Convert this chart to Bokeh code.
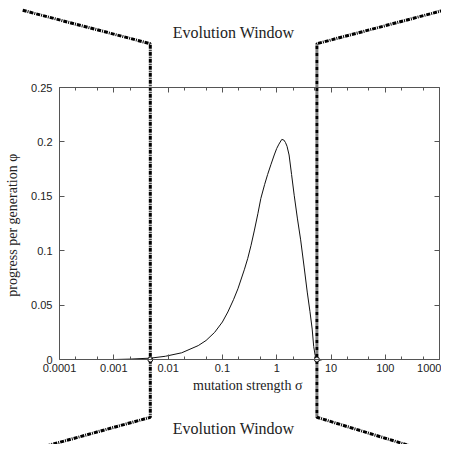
from bokeh.plotting import figure
from bokeh.models import FixedTicker, LogAxis, LinearAxis
from bokeh.core.properties import value
from bokeh.embed import file_html
from bokeh.resources import INLINE

# ---- data ----
sigma = [0.001, 0.002, 0.0048, 0.0089, 0.0178, 0.0359, 0.05, 0.072, 0.1, 0.126,
         0.16, 0.193, 0.255, 0.293, 0.337, 0.389, 0.45, 0.51, 0.6, 0.68, 0.78,
         0.9, 1.0, 1.1, 1.24, 1.35, 1.45, 1.55, 1.69, 1.88, 2.1, 2.4, 2.76,
         3.2, 3.65, 4.1, 4.5, 4.8, 5.1, 5.5, 6.0, 7.0]
phi = [0.0, 0.0004, 0.0013, 0.0030, 0.0062, 0.0128, 0.0175, 0.0250, 0.0345, 0.0437,
       0.055, 0.065, 0.083, 0.093, 0.105, 0.119, 0.134, 0.148, 0.161, 0.170, 0.179,
       0.188, 0.194, 0.198, 0.2023, 0.2018, 0.1995, 0.196, 0.188, 0.170, 0.151, 0.130, 0.110,
       0.085, 0.062, 0.044, 0.028, 0.012, 0.004, 0.0005, -0.0008, 0.0]

x_ticks = [1e-4, 1e-3, 1e-2, 1e-1, 1, 10, 100, 1000]
x_tick_labels = ["0.0001", "0.001", "0.01", "0.1", "1", "10", "100", "1000"]
x_minor = [m * t for t in x_ticks[:-1] for m in (2, 5)]
y_ticks = [0, 0.05, 0.1, 0.15, 0.2, 0.25]
y_tick_labels = ["0", "0.05", "0.1", "0.15", "0.2", "0.25"]
x_lo, x_hi = 1e-4, 1e3          # plotted axis extent
y_lo, y_hi = 0.0, 0.25

# whole-canvas view (room for the evolution-window decoration)
view_x = (10 ** -5.0866, 10 ** 3.0349)
view_y = (-0.0781, 0.3300)

# evolution window (sigma bounds) and decoration geometry in data units
window_lo, window_hi = 0.0047, 5.5
window_top, window_bottom = 0.2903, -0.0531
outer_left_top, outer_left_bottom = 2.1e-5, 1.2e-5
outer_right = 1190.0
outer_top, outer_bottom = 0.3210, -0.0888
window_label = "Evolution Window"
label_center = 0.161
label_ys = [0.3004, -0.0632]
cross_x = [window_lo, window_hi]
cross_y = [0.0, 0.0]

W, H = 441, 444
p = figure(width=W, height=H, x_axis_type="log", x_range=view_x, y_range=view_y,
           output_backend="svg", toolbar_location=None,
           min_border=0, x_axis_location=None, y_axis_location=None)
p.background_fill_color = "white"
p.border_fill_color = "white"
p.outline_line_color = None
p.grid.visible = False

xt = FixedTicker(ticks=x_ticks, minor_ticks=x_minor)
yt = FixedTicker(ticks=y_ticks)

def style_axis(ax):
    ax.axis_line_color = "#555555"
    ax.major_tick_line_color = "#555555"
    ax.minor_tick_line_color = "#555555"
    ax.major_tick_in = 5
    ax.major_tick_out = 0
    ax.minor_tick_in = 3
    ax.minor_tick_out = 0
    ax.major_label_text_font = "Liberation Sans"
    ax.major_label_text_font_size = "11px"
    ax.major_label_text_color = "#222222"
    ax.axis_label_text_font = "Liberation Serif"
    ax.axis_label_text_font_size = "14px"
    ax.axis_label_text_font_style = "normal"
    ax.axis_label_text_color = "#222222"

bottom = LogAxis(ticker=xt, fixed_location=y_lo, bounds=(x_lo, x_hi),
                 major_label_overrides={t: l for t, l in zip(x_ticks, x_tick_labels)},
                 axis_label="mutation strength  σ")
style_axis(bottom)
bottom.major_label_standoff = 4
bottom.axis_label_standoff = 3
p.add_layout(bottom, "below")

left = LinearAxis(ticker=yt, fixed_location=x_lo, bounds=(y_lo, y_hi),
                  major_label_overrides={t: l for t, l in zip(y_ticks, y_tick_labels)},
                  axis_label="progress per generation  φ")
style_axis(left)
left.minor_tick_in = 0
left.major_label_standoff = 7
left.axis_label_standoff = 8
p.add_layout(left, "left")

top = LogAxis(ticker=xt, fixed_location=y_hi, bounds=(x_lo, x_hi),
              major_label_overrides={t: "" for t in x_ticks})
style_axis(top)
p.add_layout(top, "above")

right = LinearAxis(ticker=yt, fixed_location=x_hi, bounds=(y_lo, y_hi),
                   major_label_overrides={t: "" for t in y_ticks})
style_axis(right)
right.minor_tick_in = 0
p.add_layout(right, "right")

p.line(sigma, phi, line_color="#111111", line_width=1)

# evolution window decoration
p.multi_line(xs=[[outer_left_top, window_lo, window_lo, outer_left_bottom],
                 [outer_right, window_hi, window_hi, outer_right]],
             ys=[[outer_top, window_top, window_bottom, outer_bottom],
                 [outer_top, window_top, window_bottom, outer_bottom]],
             line_color="black", line_width=3, line_dash="4 1 1 1")
p.scatter(cross_x, cross_y, size=5, marker="circle", fill_color="white",
          line_color="#111111", line_width=1)

p.text(x=[label_center] * 2, y=label_ys, text=[window_label] * 2,
       text_align="center", text_baseline="middle",
       text_font=value("Liberation Serif"), text_font_size="16px", text_color="#222222")

open("out.html", "w").write(file_html(p, INLINE))
